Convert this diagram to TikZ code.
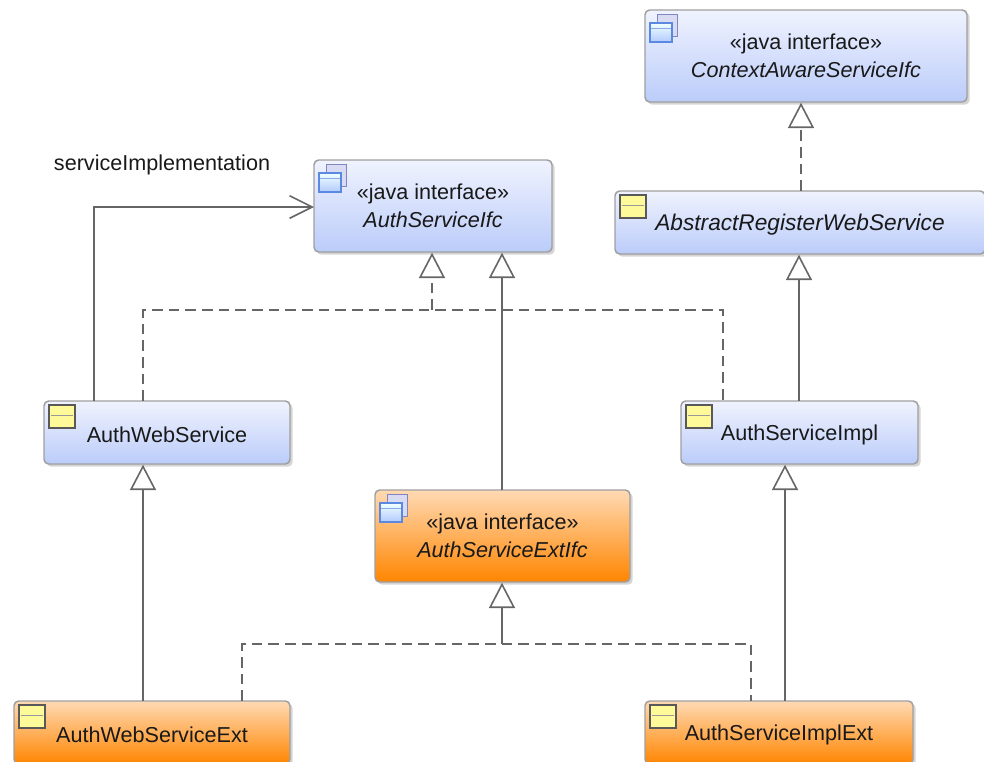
\documentclass[tikz,border=0pt]{standalone}
\usepackage{fontspec}
\setmainfont{Liberation Sans}
\usetikzlibrary{arrows.meta, shadows}

\definecolor{ifaceTop}{HTML}{F0F3FE}
\definecolor{ifaceBot}{HTML}{BBCCFA}
\definecolor{extTop}{HTML}{FFDAB4}
\definecolor{extBot}{HTML}{FF8500}
\definecolor{lineGray}{HTML}{666666}
\definecolor{markBlue}{HTML}{5B88E0}
\definecolor{markBack}{HTML}{7F86C0}
\definecolor{markPale}{HTML}{D9DBF2}

% small marks in the corner of a box
\newcommand{\classmark}[1]{
  \begin{scope}[shift={(#1.north west)}]
    \draw[line width=1.5pt, draw=black!65, fill=yellow!40] (6,5) rectangle (32,28);
    \draw[draw=black!40] (8,15) -- (30,15);
  \end{scope}
}
\newcommand{\ifacemark}[1]{
  \begin{scope}[shift={(#1.north west)}]
    \draw[line width=1pt, draw=markBack, fill=markPale] (13,5) rectangle (33,27);
    \draw[line width=1.4pt, draw=markBlue, top color=cyan!6, bottom color=cyan!30!blue!30] (6,14) rectangle (28,33);
    \draw[line width=1pt, draw=markBlue!70] (7,19) -- (27,19);
  \end{scope}
}
% two lines of an interface box
\newcommand{\ifacetext}[1]{\raisebox{-2pt}{«java interface»}\\\raisebox{-2pt}{\textit{#1}}}

\begin{document}
\begin{tikzpicture}
[x=0.75pt, y=-0.75pt,
 >={Triangle[open, fill=white, length=19pt, width=19.5pt]},
 every node/.style={font=\fontsize{16.2pt}{21pt}\selectfont, text=black!90},
 box/.style={draw=gray!75, line width=1.1pt, rounded corners=3.5pt, inner sep=0pt, align=center,
   drop shadow={shadow xshift=2pt, shadow yshift=-2pt, fill=black!30, opacity=.55}},
 ifacebox/.style={box, top color=ifaceTop, bottom color=ifaceBot},
 extbox/.style={box, top color=extTop, bottom color=extBot},
 oneline/.style={execute at begin node=\rule{0pt}{15pt}},
 link/.style={draw=lineGray, line width=1.2pt},
 dashlink/.style={link, dash pattern=on 8pt off 4.5pt}
]
\clip (0,0) rectangle (984,761);

\node[ifacebox, minimum width=241.5pt, minimum height=69pt] (context) at (806,56)
  {\ifacetext{ContextAwareServiceIfc}};
\node[ifacebox, oneline, minimum width=277.5pt, minimum height=47.25pt, font=\fontsize{17pt}{21pt}\selectfont] (abstract) at (800,222.5)
  {\textit{AbstractRegisterWebService}};
\node[ifacebox, minimum width=178.5pt, minimum height=69pt] (authifc) at (433,206)
  {\ifacetext{AuthServiceIfc}};
\node[ifacebox, oneline, minimum width=184.5pt, minimum height=47.25pt] (authweb) at (167,432.5)
  {AuthWebService};
\node[ifacebox, oneline, minimum width=177.75pt, minimum height=47.25pt] (authimpl) at (799.5,432.5)
  {AuthServiceImpl};
\node[extbox, minimum width=191.25pt, minimum height=69pt] (extifc) at (502.5,536)
  {\ifacetext{AuthServiceExtIfc}};
\node[extbox, oneline, minimum width=207pt, minimum height=47.25pt] (webext) at (152,732.5)
  {AuthWebServiceExt};
\node[extbox, oneline, minimum width=201pt, minimum height=47.25pt] (implext) at (779,732.5)
  {AuthServiceImplExt};

\node (servicelabel) at (162,165) {serviceImplementation};

\ifacemark{context}
\classmark{abstract}
\ifacemark{authifc}
\classmark{authweb}
\classmark{authimpl}
\ifacemark{extifc}
\classmark{webext}
\classmark{implext}

% connector ends along the box edges
\coordinate (absout) at (801,191);
\coordinate (implup) at (799,401);
\coordinate (implextup) at (785,701);
\coordinate (webuse) at (94,401);
\coordinate (webreal) at (143,401);
\coordinate (implreal) at (723,401);
\coordinate (ifcjoin) at (432,310);
\coordinate (extup) at (502,490);
\coordinate (webextup) at (143,701);
\coordinate (webextreal) at (242,701);
\coordinate (implextreal) at (751,701);
\coordinate (extjoin) at (502,644);
\coordinate (usein) at (314,207);

\draw[dashlink, ->] (absout) -- (absout |- context.south);
\draw[link, ->] (implup) -- (implup |- abstract.south);
\draw[link, ->] (implextup) -- (implextup |- authimpl.south);
\draw[link, ->] (webextup) -- (webextup |- authweb.south);
\draw[link, ->] (extup) -- (extup |- authifc.south);
\draw[link, -{Straight Barb[length=17pt, width=17pt]}] (webuse) |- (usein);
\draw[dashlink] (webreal) |- (ifcjoin) -| (implreal);
\draw[dashlink, ->] (ifcjoin) -- (ifcjoin |- authifc.south);
\draw[dashlink] (webextreal) |- (extjoin) -| (implextreal);
\draw[link, ->] (extjoin) -- (extjoin |- extifc.south);
\end{tikzpicture}
\end{document}
